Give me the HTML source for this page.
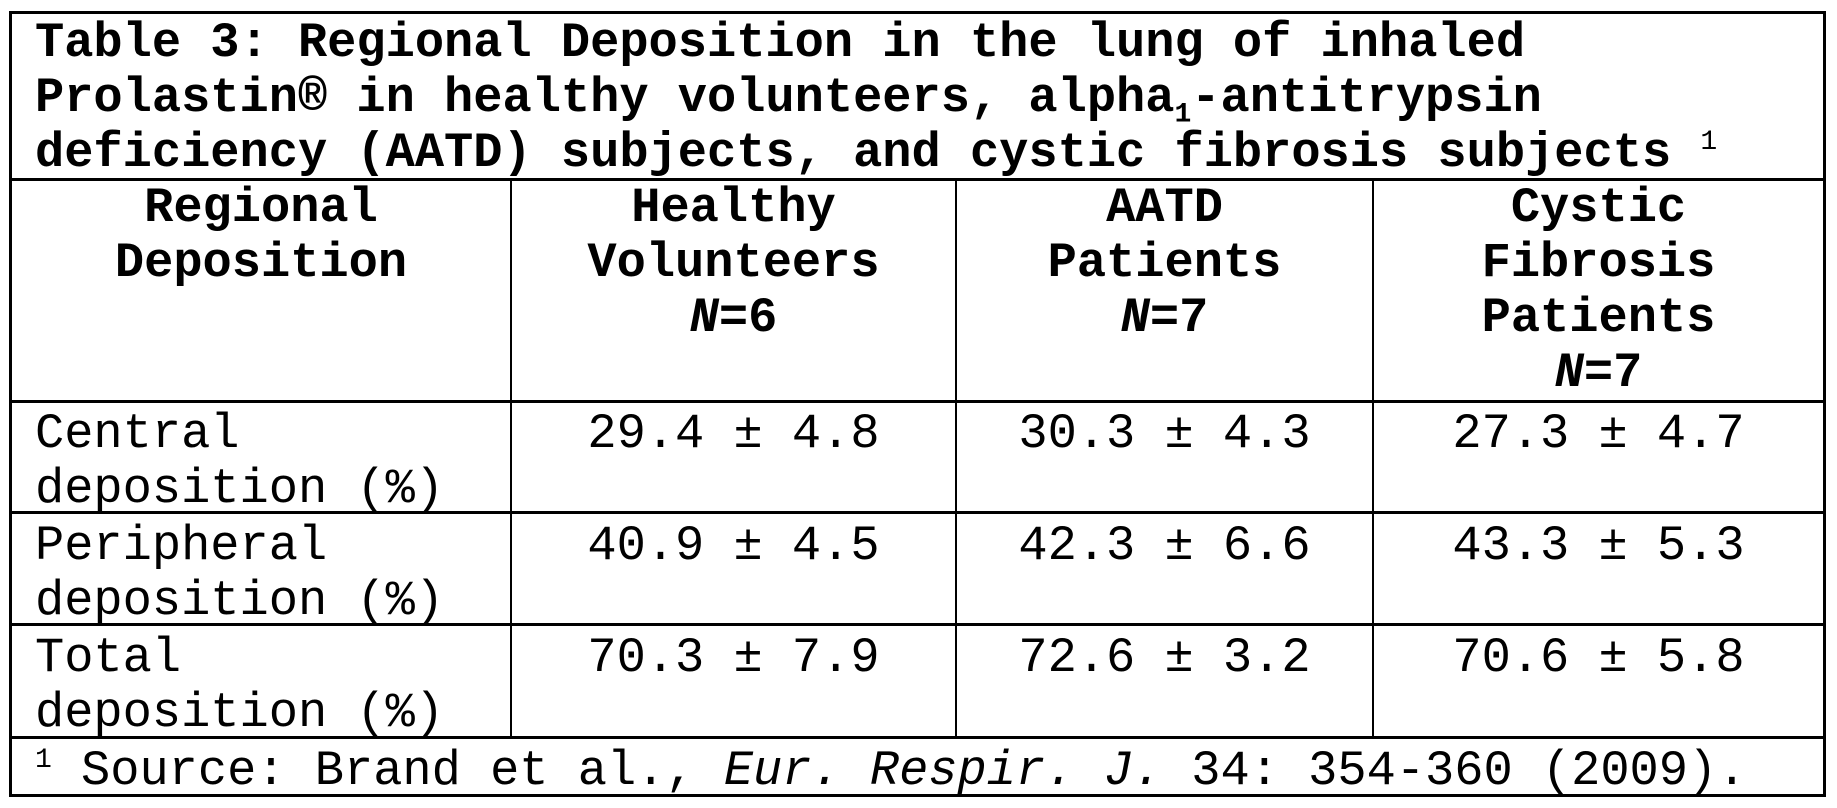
<!DOCTYPE html>
<html><head><style>
body{margin:0;width:1837px;height:808px;background:#fff;position:relative;overflow:hidden;font-family:"Liberation Mono",monospace;font-size:48.7px;line-height:55px;color:#000}
.l{position:absolute;background:#000}
.t{position:absolute;white-space:pre}
.b{font-weight:bold}
.c{text-align:center}
sub,sup{font-size:28px;line-height:0}
</style></head><body>
<div class="l" style="left:9px;top:11px;width:1817px;height:3px"></div>
<div class="l" style="left:9px;top:11px;width:3px;height:786px"></div>
<div class="l" style="left:1823px;top:11px;width:3px;height:786px"></div>
<div class="l" style="left:9px;top:794px;width:1817px;height:3px"></div>
<div class="l" style="left:9px;top:178px;width:1817px;height:3px"></div>
<div class="l" style="left:9px;top:400px;width:1817px;height:3px"></div>
<div class="l" style="left:9px;top:511px;width:1817px;height:3px"></div>
<div class="l" style="left:9px;top:623px;width:1817px;height:3px"></div>
<div class="l" style="left:9px;top:736px;width:1817px;height:3px"></div>
<div class="l" style="left:510px;top:178px;width:2px;height:560px"></div>
<div class="l" style="left:955px;top:178px;width:2px;height:560px"></div>
<div class="l" style="left:1372px;top:178px;width:2px;height:560px"></div>

<div class="t b" style="left:35px;top:16px">Table 3: Regional Deposition in the lung of inhaled
Prolastin® in healthy volunteers, alpha<sub>1</sub>-antitrypsin
deficiency (AATD) subjects, and cystic fibrosis subjects <sup style="font-weight:normal">1</sup></div>

<div class="t b c" style="left:12px;width:498px;top:181px">Regional
Deposition</div>
<div class="t b c" style="left:512px;width:443px;top:181px">Healthy
Volunteers
<i>N</i>=6</div>
<div class="t b c" style="left:957px;width:415px;top:181px">AATD
Patients
<i>N</i>=7</div>
<div class="t b c" style="left:1374px;width:449px;top:181px">Cystic
Fibrosis
Patients
<i>N</i>=7</div>

<div class="t" style="left:35px;top:407px">Central
deposition (%)</div>
<div class="t c" style="left:512px;width:443px;top:407px">29.4 ± 4.8</div>
<div class="t c" style="left:957px;width:415px;top:407px">30.3 ± 4.3</div>
<div class="t c" style="left:1374px;width:449px;top:407px">27.3 ± 4.7</div>

<div class="t" style="left:35px;top:519px">Peripheral
deposition (%)</div>
<div class="t c" style="left:512px;width:443px;top:519px">40.9 ± 4.5</div>
<div class="t c" style="left:957px;width:415px;top:519px">42.3 ± 6.6</div>
<div class="t c" style="left:1374px;width:449px;top:519px">43.3 ± 5.3</div>

<div class="t" style="left:35px;top:631px">Total
deposition (%)</div>
<div class="t c" style="left:512px;width:443px;top:631px">70.3 ± 7.9</div>
<div class="t c" style="left:957px;width:415px;top:631px">72.6 ± 3.2</div>
<div class="t c" style="left:1374px;width:449px;top:631px">70.6 ± 5.8</div>

<div class="t" style="left:35px;top:744px"><sup>1</sup> Source: Brand et al., <i>Eur. Respir. J.</i> 34: 354-360 (2009).</div>
</body></html>
